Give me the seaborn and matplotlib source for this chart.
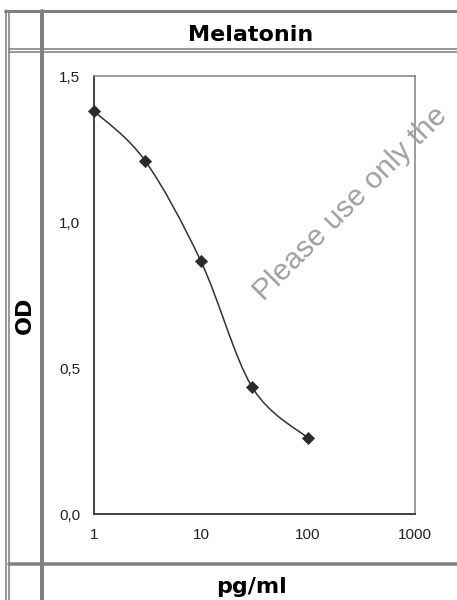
import numpy as np
import matplotlib
matplotlib.use("Agg")
import matplotlib.pyplot as plt
from matplotlib.lines import Line2D
from matplotlib.path import Path
from matplotlib.patches import PathPatch
import seaborn as sns
import pandas as pd

# data
conc = [1, 3, 10, 30, 100]
od = [1.38, 1.21, 0.865, 0.435, 0.26]
x_ticks = [1, 10, 100, 1000]
x_tick_labels = ["1", "10", "100", "1000"]
y_ticks = [0.0, 0.5, 1.0, 1.5]
y_tick_labels = ["0,0", "0,5", "1,0", "1,5"]

title = "Melatonin"
x_label = "pg/ml"
y_label = "OD"
watermark = "Please use only the"

W, H = 457, 600
sns.set_style("white")
fig = plt.figure(figsize=(W / 100, H / 100), dpi=100)
fig.patch.set_facecolor("white")

# table frame (pixel coords -> figure coords)
grey = "#808080"
def hline(y, x0, x1, lw):
    fig.add_artist(Line2D([x0 / W, x1 / W], [1 - y / H, 1 - y / H],
                          transform=fig.transFigure, color=grey, lw=lw * 0.72))

def vline(x, y0, y1, lw):
    fig.add_artist(Line2D([x / W, x / W], [1 - y0 / H, 1 - y1 / H],
                          transform=fig.transFigure, color=grey, lw=lw * 0.72))

vline(5.8, 9.5, 600, 1.6)
vline(9.2, 12, 600, 1.6)
hline(11, 5, 457, 3)
hline(48.8, 9, 457, 1.6)
hline(51.6, 9, 457, 1.6)
vline(42, 11, 600, 4)
hline(563.5, 9, 457, 3.5)

# watermark (behind the plot)
fig.text(264 / W, 1 - 302 / H, watermark, ha="left", va="baseline",
         rotation=45, rotation_mode="anchor", fontsize=21.5,
         family="Liberation Sans", color="#a0a0a0", zorder=0)

# plot area
ax = fig.add_axes([94 / W, 1 - 514 / H, (415 - 94) / W, (514 - 76) / H])
ax.set_xscale("log")
ax.set_xlim(1, 1000)
ax.set_ylim(0, 1.5)

# smoothed line (Excel style bezier, built in log-x space)
u = np.log10(conc)
pts = np.column_stack([u, od])
n = len(pts)
verts = [pts[0]]
codes = [Path.MOVETO]
for i in range(n - 1):
    p_prev = pts[max(i - 1, 0)]
    p0, p1 = pts[i], pts[i + 1]
    p_next = pts[min(i + 2, n - 1)]
    c1 = p0 + (p1 - p_prev) / 6
    c2 = p1 - (p_next - p0) / 6
    verts += [c1, c2, p1]
    codes += [Path.CURVE4] * 3
verts = np.array(verts)
verts[:, 0] = 10 ** verts[:, 0]
ax.add_patch(PathPatch(Path(verts, codes), fill=False, edgecolor="#333333",
                       lw=1.1, zorder=2))

df = pd.DataFrame({"conc": conc, "od": od})
sns.scatterplot(data=df, x="conc", y="od", marker="D", s=38, color="#2b2b2b",
                edgecolor="#2b2b2b", linewidth=0.5, ax=ax, zorder=3, clip_on=False)

ax.set_xticks(x_ticks)
ax.set_xticklabels(x_tick_labels)
ax.xaxis.set_minor_locator(matplotlib.ticker.NullLocator())
ax.set_yticks(y_ticks)
ax.set_yticklabels(y_tick_labels)
ax.set_xlabel("")
ax.set_ylabel("")
ax.tick_params(axis="both", direction="out", length=4, width=1, color="#333333",
               labelsize=11, labelcolor="#222222", labelfontfamily="Liberation Sans")
ax.tick_params(axis="x", pad=6)
ax.tick_params(axis="y", pad=6)
ax.spines["left"].set_color("#404040")
ax.spines["bottom"].set_color("#404040")
ax.spines["left"].set_linewidth(1.4)
ax.spines["bottom"].set_linewidth(1.4)
for s in ["top", "right"]:
    ax.spines[s].set_visible(True)
    ax.spines[s].set_color("#8a8a8a")
    ax.spines[s].set_linewidth(1.2)
ax.set_facecolor("none")

# headings
fig.text(251 / W, 1 - 41 / H, title, ha="center", va="baseline",
         fontsize=16, fontweight="bold", family="DejaVu Sans", color="black")
fig.text(251 / W, 1 - 593 / H, x_label, ha="center", va="baseline",
         fontsize=16, fontweight="bold", family="DejaVu Sans", color="black")
fig.text(25 / W, 1 - 315 / H, y_label, ha="center", va="center", rotation=90,
         fontsize=16, fontweight="bold", family="DejaVu Sans", color="black")

fig.savefig("out.png", dpi=100, facecolor="white")
